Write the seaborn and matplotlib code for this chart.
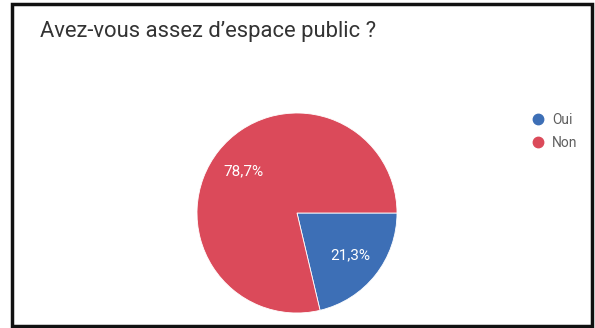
import matplotlib
matplotlib.use('Agg')
import matplotlib.pyplot as plt
import seaborn as sns
from matplotlib.lines import Line2D
from matplotlib.patches import Rectangle

# Data
title = "Avez-vous assez d\u2019espace public ?"
labels = ['Oui', 'Non']
shares = [21.3, 78.7]
colors = ['#3d6fb6', '#db4a5a']

sns.set_theme(style='white')
plt.rcParams['font.family'] = ['Roboto', 'DejaVu Sans']

W, H = 595, 328
fig = plt.figure(figsize=(W / 100, H / 100), dpi=100)
fig.patch.set_facecolor('white')

# pie axes: centre (297, 213), radius 100 px
ax = fig.add_axes([197 / W, (H - 313) / H, 200 / W, 200 / H])
wedges, texts, autotexts = ax.pie(
    shares, colors=colors, startangle=0, counterclock=False,
    autopct=lambda p: f'{p:.1f}%'.replace('.', ','),
    pctdistance=0.68, radius=1.0,
    wedgeprops=dict(edgecolor='white', linewidth=0.6))
for t in autotexts:
    t.set_color('white')
    t.set_fontsize(11)
ax.set_aspect('equal')
ax.set_xlim(-1, 1)
ax.set_ylim(-1, 1)
ax.axis('off')

fig.text(40 / W, 1 - 31 / H, title, fontsize=15.8, color='#333333',
         va='center', ha='left')

handles = [Line2D([], [], marker='o', linestyle='', markersize=7.5,
                  markerfacecolor=c, markeredgecolor=c) for c in colors]
fig.legend(handles, labels, loc='upper left',
           bbox_to_anchor=(524 / W, 1 - 107 / H), frameon=False,
           fontsize=10, labelcolor='#5f5f5f', handletextpad=0.4,
           handlelength=1.2, labelspacing=0.65, borderaxespad=0)

# black frame around the screenshot
fig.patches.append(Rectangle((12 / W, 2 / H), 580 / W, 322 / H,
                             transform=fig.transFigure, fill=False,
                             edgecolor='#111111', linewidth=2.5))

fig.savefig('out.png', dpi=100)
